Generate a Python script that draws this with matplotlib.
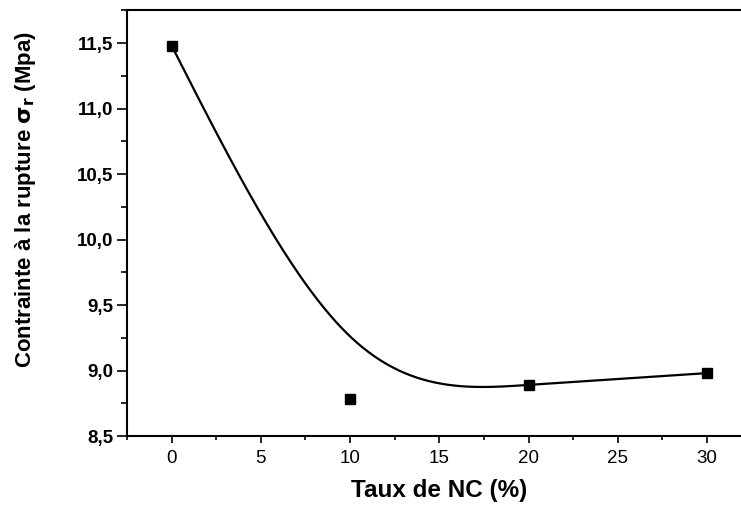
import numpy as np
import matplotlib
matplotlib.use("Agg")
import matplotlib.pyplot as plt
from matplotlib.ticker import MultipleLocator, FuncFormatter

# Data (measured points)
taux_nc = [0, 10, 20, 30]
contrainte = [11.48, 8.78, 8.89, 8.98]

# Smooth curve knots (spline drawn in the original)
curve_x = [0, 10, 20, 30]
curve_y = [11.48, 9.26, 8.89, 8.98]

x_ticks = [0, 5, 10, 15, 20, 25, 30]
y_ticks = [8.5, 9.0, 9.5, 10.0, 10.5, 11.0, 11.5]


def natural_spline(xk, yk, xs):
    xk = np.asarray(xk, float)
    yk = np.asarray(yk, float)
    n = len(xk)
    h = np.diff(xk)
    A = np.zeros((n, n))
    b = np.zeros(n)
    A[0, 0] = 1
    A[-1, -1] = 1
    for i in range(1, n - 1):
        A[i, i - 1] = h[i - 1]
        A[i, i] = 2 * (h[i - 1] + h[i])
        A[i, i + 1] = h[i]
        b[i] = 6 * ((yk[i + 1] - yk[i]) / h[i] - (yk[i] - yk[i - 1]) / h[i - 1])
    M = np.linalg.solve(A, b)
    out = np.empty_like(xs)
    for j, x in enumerate(xs):
        i = min(max(np.searchsorted(xk, x) - 1, 0), n - 2)
        a = xk[i + 1] - x
        c = x - xk[i]
        hi = h[i]
        out[j] = (M[i] * a ** 3 / (6 * hi) + M[i + 1] * c ** 3 / (6 * hi)
                  + (yk[i] / hi - M[i] * hi / 6) * a
                  + (yk[i + 1] / hi - M[i + 1] * hi / 6) * c)
    return out


plt.rcParams['font.family'] = ['Liberation Sans', 'DejaVu Sans']

fig = plt.figure(figsize=(7.41, 5.07), dpi=100)
ax = fig.add_axes([127 / 741, 71 / 507, 1 - 127 / 741, 426 / 507])

xs = np.linspace(curve_x[0], curve_x[-1], 400)
ax.plot(xs, natural_spline(curve_x, curve_y, xs), color='black', lw=1.6, zorder=2)
ax.plot(taux_nc, contrainte, linestyle='none', marker='s', color='black',
        markersize=7.5, zorder=3)

ax.set_xlim(-2.5, 31.9)
ax.set_ylim(8.5, 11.752)

ax.set_xticks(x_ticks)
ax.set_yticks(y_ticks)
ax.xaxis.set_minor_locator(MultipleLocator(2.5))
ax.yaxis.set_minor_locator(MultipleLocator(0.25))
ax.yaxis.set_major_formatter(FuncFormatter(lambda v, p: f"{v:.1f}".replace('.', ',')))

ax.tick_params(axis='x', which='major', direction='out', length=5, width=1.2,
               labelsize=13.5, pad=5)
ax.tick_params(axis='x', which='minor', direction='out', length=3, width=1.2)
ax.tick_params(axis='y', which='major', direction='out', length=7, width=1.2,
               labelsize=13.5, pad=3)
ax.tick_params(axis='y', which='minor', direction='out', length=4, width=1.2)
for lab in ax.get_yticklabels():
    lab.set_fontweight('bold')

ax.spines['right'].set_visible(False)
for s in ['left', 'bottom', 'top']:
    ax.spines[s].set_linewidth(1.5)

ax.set_xlabel('Taux de NC (%)', fontsize=17.5, fontweight='bold')
ax.xaxis.set_label_coords(0.508, -0.1)
ax.set_ylabel(r'Contrainte à la rupture $\mathbf{\sigma_r}$ (Mpa)', fontsize=16,
              fontweight='bold')
ax.yaxis.set_label_coords(-0.145, 0.554)

fig.savefig('out.png', dpi=100)
